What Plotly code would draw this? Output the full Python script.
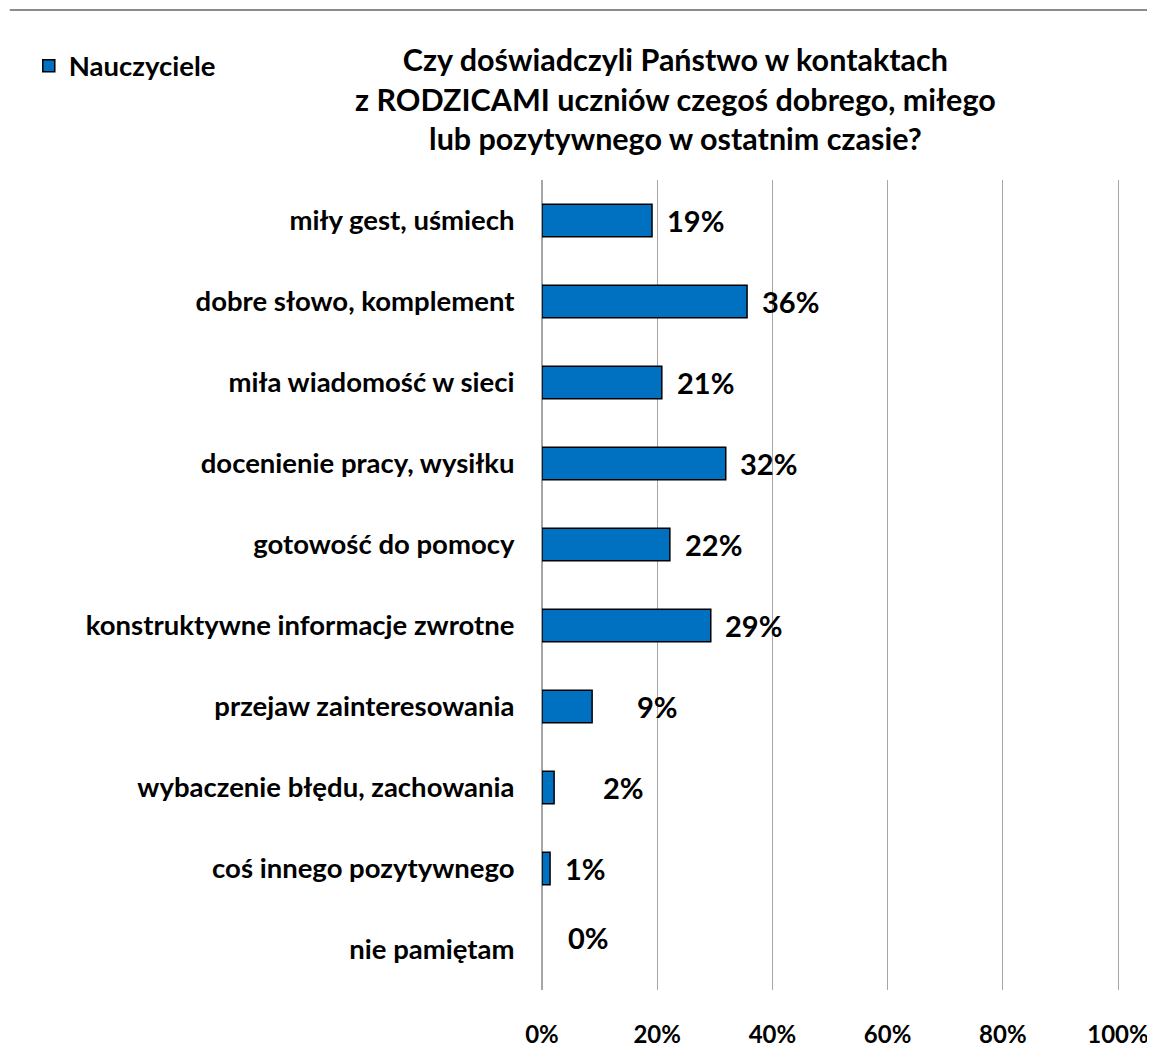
import plotly.graph_objects as go

categories = [
    "miły gest, uśmiech",
    "dobre słowo, komplement",
    "miła wiadomość w sieci",
    "docenienie pracy, wysiłku",
    "gotowość do pomocy",
    "konstruktywne informacje zwrotne",
    "przejaw zainteresowania",
    "wybaczenie błędu, zachowania",
    "coś innego pozytywnego",
    "nie pamiętam",
]
values = [19.1, 35.6, 20.8, 31.9, 22.2, 29.3, 8.7, 2.1, 1.4, 0.0]
value_labels = ["19%", "36%", "21%", "32%", "22%", "29%", "9%", "2%", "1%", "0%"]
label_shift = [13, 13, 13, 12, 13, 12, 43, 47, 13, 24]
label_yshift = [0, 0, 0, 0, 0, 0, 0, 0, 0, 12]
series_name = "Nauczyciele"
title_text = ("Czy doświadczyli Państwo w kontaktach<br>"
              "z RODZICAMI uczniów czegoś dobrego, miłego<br>"
              "lub pozytywnego w ostatnim czasie?")
tick_vals = [0, 20, 40, 60, 80, 100]
tick_text = ["0%", "20%", "40%", "60%", "80%", "100%"]

FONT = "Lato"

fig = go.Figure()
fig.add_trace(go.Bar(
    y=categories, x=values, orientation="h", name=f"<b>{series_name}</b>",
    marker=dict(color="#0070C0",
                line=dict(color="#000000", width=[1.5 if v > 0 else 0 for v in values])),
    width=0.4, showlegend=True,
))

for cat, v, lab, sh, ys in zip(categories, values, value_labels, label_shift, label_yshift):
    fig.add_annotation(x=v, y=cat, xref="x", yref="y", text=f"<b>{lab}</b>",
                       showarrow=False, xanchor="left", yanchor="middle",
                       xshift=sh, yshift=ys,
                       font=dict(family=FONT, size=29, color="#000000"))

fig.add_annotation(x=0.231, y=1.1, xref="paper", yref="paper",
                   text=f"<b>{title_text}</b>", showarrow=False,
                   xanchor="center", yanchor="middle", align="center",
                   font=dict(family=FONT, size=30.5, color="#000000"))

fig.add_shape(type="line", xref="paper", yref="paper", x0=-0.924, x1=1.064,
              y0=1 + 170 / 810, y1=1 + 170 / 810,
              line=dict(color="#8c8c8c", width=2))

fig.update_layout(
    width=1147, height=1042,
    margin=dict(l=534, r=37, t=172, b=60, autoexpand=False),
    paper_bgcolor="white", plot_bgcolor="white",
    font=dict(family=FONT, color="#000000"),
    bargap=0.6,
    legend=dict(x=-0.891, y=1.141, xanchor="left", yanchor="middle",
                font=dict(family=FONT, size=27.5, color="#000000"),
                itemwidth=30, bgcolor="rgba(0,0,0,0)"),
    xaxis=dict(range=[0, 100], tickvals=tick_vals,
               ticktext=[f"<b>{t}</b>" for t in tick_text],
               showgrid=True, gridcolor="#A6A6A6", gridwidth=1,
               zeroline=True, zerolinecolor="#A6A6A6", zerolinewidth=1,
               showline=False, ticks="", ticklabelstandoff=28, automargin=False,
               tickfont=dict(family=FONT, size=24, color="#000000")),
    yaxis=dict(autorange="reversed", showgrid=False, zeroline=False, ticks="",
               showline=True, mirror=True, linecolor="#A6A6A6", linewidth=1,
               ticklabelstandoff=21, automargin=False,
               tickmode="array", tickvals=categories,
               ticktext=[f"<b>{c}</b>" for c in categories],
               tickfont=dict(family=FONT, size=27.5, color="#000000")),
)

fig.write_html("out.html")
